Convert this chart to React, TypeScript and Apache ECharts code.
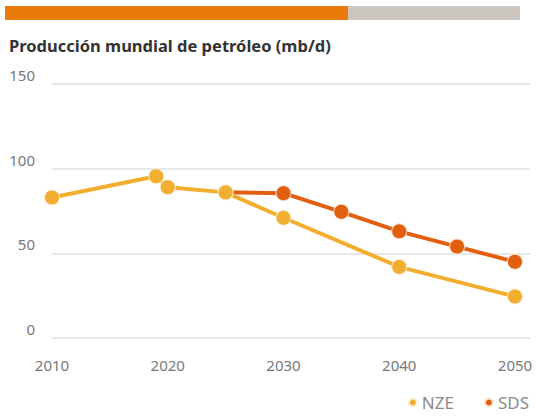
import React, { useEffect, useRef } from "react";
import * as echarts from "echarts";

const nzeData: [number, number][] = [
  [2010, 83],
  [2019, 95.5],
  [2020, 89],
  [2025, 86],
  [2030, 71],
  [2040, 42],
  [2050, 24.5],
];
const sdsData: [number, number][] = [
  [2025, 86],
  [2030, 85.5],
  [2035, 74.5],
  [2040, 63],
  [2045, 54],
  [2050, 45],
];
const yTicks = [0, 50, 100, 150];
const titleText = "Producción mundial de petróleo (mb/d)";

export default function App() {
  const ref = useRef<HTMLDivElement>(null);
  useEffect(() => {
    if (!ref.current) return;
    const chart = echarts.init(ref.current, null, { renderer: "svg" });
    chart.setOption({
      animation: false,
      backgroundColor: "#ffffff",
      graphic: [
        { type: "rect", shape: { x: 5, y: 6, width: 343, height: 14 }, style: { fill: "#E97B0D" } },
        { type: "rect", shape: { x: 348, y: 6, width: 172, height: 14 }, style: { fill: "#CBC5C0" } },
      ],
      title: {
        text: titleText,
        left: 4,
        top: 32,
        textStyle: { fontFamily: "Noto Sans", fontWeight: "bold", fontSize: 16.5, color: "#333333" },
      },
      legend: {
        data: ["NZE", "SDS"],
        right: 2,
        bottom: 1,
        icon: "circle",
        itemWidth: 8,
        itemHeight: 8,
        itemGap: 30,
        textStyle: { fontFamily: "Noto Sans", fontSize: 17, color: "#8a8a8a" },
      },
      grid: { left: 52, right: 6, top: 84, bottom: 79, containLabel: false },
      xAxis: {
        type: "value",
        min: 2010,
        max: 2051.3,
        interval: 10,
        axisLine: { show: false },
        axisTick: { show: false },
        splitLine: { show: false },
        axisLabel: {
          margin: 19,
          fontFamily: "Noto Sans",
          fontSize: 15,
          color: "#777",
          formatter: (v: number) => (Math.abs(v % 10) < 1e-6 ? String(v) : ""),
        },
      },
      yAxis: {
        type: "value",
        min: yTicks[0],
        max: yTicks[yTicks.length - 1],
        interval: 50,
        axisLine: { show: false },
        axisTick: { show: false },
        splitLine: { lineStyle: { color: "#E8E8E8", width: 2 } },
        axisLabel: { margin: 17, fontFamily: "Noto Sans", fontSize: 15, color: "#777", verticalAlign: "bottom", lineHeight: 18 },
      },
      series: [
        {
          name: "SDS",
          type: "line",
          data: sdsData,
          color: "#E35F10",
          symbol: "circle",
          symbolSize: 15,
          lineStyle: { width: 4, color: "#E35F10" },
          itemStyle: { color: "#E35F10", borderColor: "#fbe3d2", borderWidth: 1 },
          z: 2,
        },
        {
          name: "NZE",
          type: "line",
          data: nzeData,
          color: "#F2AE2E",
          symbol: "circle",
          symbolSize: 15,
          lineStyle: { width: 4, color: "#F2AE2E" },
          itemStyle: { color: "#F2AE2E", borderColor: "#fdf0d8", borderWidth: 1 },
          z: 3,
        },
      ],
    });
    return () => chart.dispose();
  }, []);
  return (
    <div
      ref={ref}
      style={{ position: "absolute", left: 0, top: 0, width: 536, height: 417 }}
    />
  );
}
